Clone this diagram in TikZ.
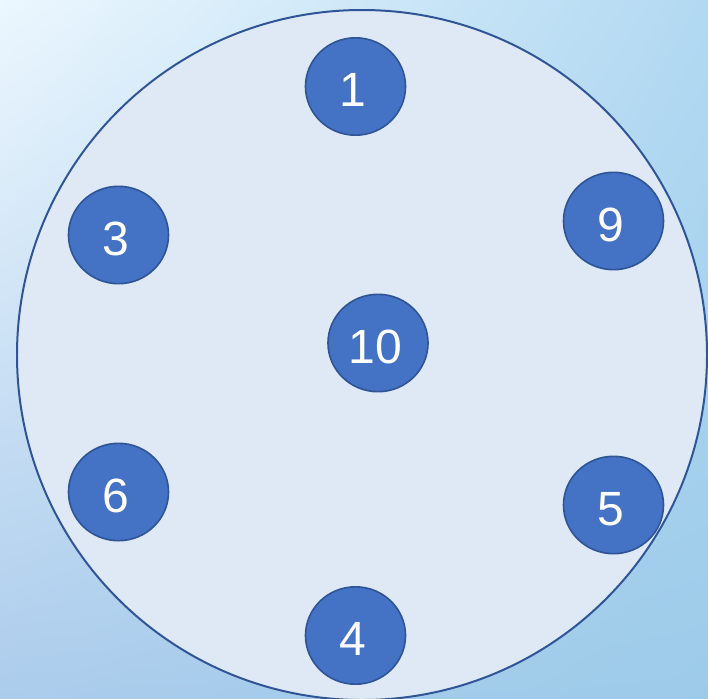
\documentclass[tikz,border=0pt]{standalone}
\usepackage{xcolor}
\usepackage{fontspec}
\setmainfont{Liberation Sans}
\usepackage{tikz}
\usetikzlibrary{shapes,shadings,positioning}

\definecolor{ballblue}{HTML}{4472C4}
\definecolor{rimblue}{HTML}{2F5597}
\definecolor{platefill}{HTML}{DEE9F5}
\definecolor{skytl}{HTML}{ECF7FE}
\definecolor{skytr}{HTML}{B2D9F2}
\definecolor{skybl}{HTML}{ACCCEC}
\definecolor{skybr}{HTML}{9CCBE9}

\begin{document}
\begin{tikzpicture}[x=0.03cm, y=-0.03cm,
  ball/.style={draw=rimblue, line width=1.4pt, fill=ballblue, ellipse,
    minimum width=3cm, minimum height=2.92cm, inner sep=0pt,
    text height=1.2cm, text depth=0cm,
    execute at begin node={\kern-0.16cm},
    text=white, font=\fontsize{41}{41}\selectfont}]
  \useasboundingbox (0,0) rectangle (708,698);
  \clip (0,0) rectangle (708,698);
  \shade[upper left=skytl, upper right=skytr, lower left=skybl, lower right=skybr]
    (0,0) rectangle (708,698);
  \draw[rimblue, line width=1.7pt, fill=platefill] (362,355) circle [radius=345];

  \node[ball] (n1) at (355.5,86.5) {1};
  \node[ball] (n3) at (118.5,235) {3};
  \node[ball] (n9) at (613.5,221) {9};
  \node[ball] (n10) at (378,343) {10};
  \node[ball] (n6) at (118.5,492) {6};
  \node[ball] (n5) at (613.5,505) {5};
  \node[ball] (n4) at (355.5,635.5) {4};
\end{tikzpicture}
\end{document}
